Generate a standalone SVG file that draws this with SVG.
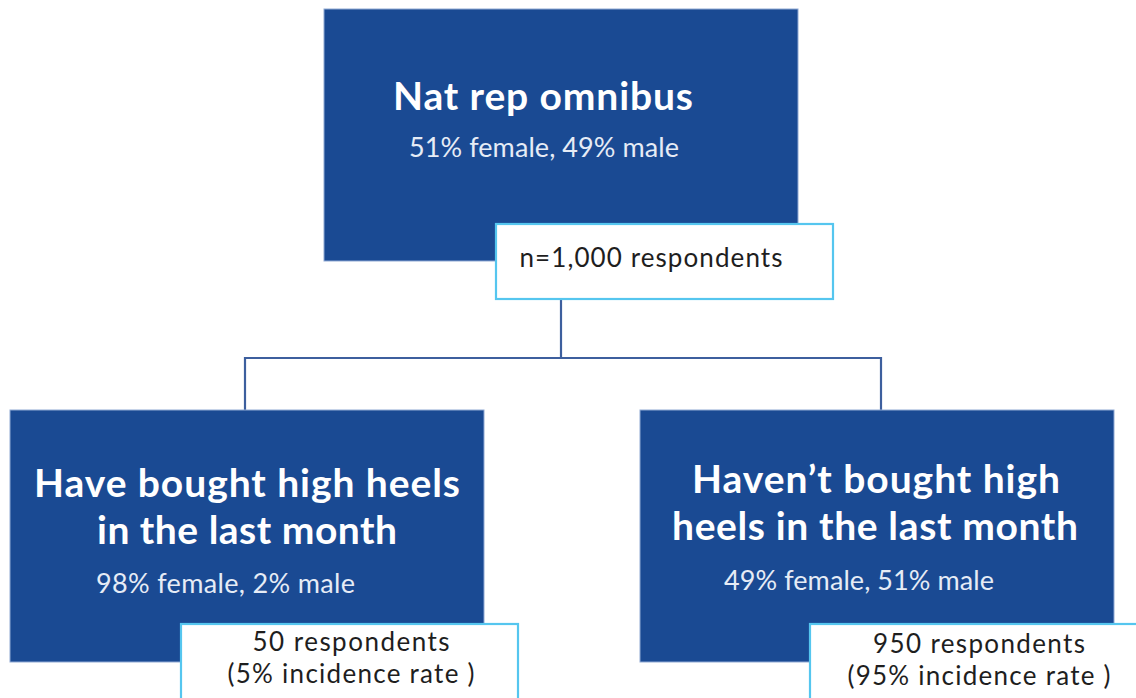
<svg xmlns="http://www.w3.org/2000/svg" width="1136" height="698" viewBox="0 0 1136 698">
<style>
.box{fill:#1a4a93;stroke:#8fa9d4;stroke-width:1}
.lbl{fill:#ffffff;stroke:#55c6ef;stroke-width:2.2}
.title{font-family:Lato,"Liberation Sans",sans-serif;font-weight:bold;font-size:39px;fill:#ffffff}
.sub{font-family:Lato,"Liberation Sans",sans-serif;font-size:27px;fill:#e6ecf6}
.ltxt{font-family:Lato,"Liberation Sans",sans-serif;font-size:26px;fill:#1e1e1e}
.conn{fill:none;stroke:#3d5f9e;stroke-width:2.2}
</style>
<rect width="1136" height="698" fill="#ffffff"/>
<g id="connectors">
<path class="conn" d="M561 299 V358 M245 410 V358 H881 V410"/>
</g>
<g id="node-omnibus">
<rect class="box" x="324" y="9" width="474" height="252"/>
<text class="title" x="543" y="110" text-anchor="middle" textLength="300">Nat rep omnibus</text>
<text class="sub" x="544" y="157" text-anchor="middle" textLength="270">51% female, 49% male</text>
</g>
<g id="label-total">
<rect class="lbl" x="496" y="224" width="337" height="75"/>
<text class="ltxt" x="651" y="267" text-anchor="middle" textLength="263">n=1,000 respondents</text>
</g>
<g id="node-bought">
<rect class="box" x="10" y="410" width="474" height="252"/>
<text class="title" x="247" y="497" text-anchor="middle" textLength="426">Have bought high heels</text>
<text class="title" x="247" y="544" text-anchor="middle" textLength="300">in the last month</text>
<text class="sub" x="96" y="593" textLength="259">98% female, 2% male</text>
</g>
<g id="label-bought">
<rect class="lbl" x="181" y="624" width="337" height="80"/>
<text class="ltxt" x="351" y="651" text-anchor="middle" textLength="197">50 respondents</text>
<text class="ltxt" x="351" y="683" text-anchor="middle" textLength="247">(5% incidence rate )</text>
</g>
<g id="node-not-bought">
<rect class="box" x="640" y="410" width="474" height="252"/>
<text class="title" x="876" y="493" text-anchor="middle" textLength="368">Haven’t bought high</text>
<text class="title" x="875" y="540" text-anchor="middle" textLength="406">heels in the last month</text>
<text class="sub" x="724" y="590" textLength="270">49% female, 51% male</text>
</g>
<g id="label-not-bought">
<rect class="lbl" x="810" y="624" width="340" height="80"/>
<text class="ltxt" x="979" y="653" text-anchor="middle" textLength="212">950 respondents</text>
<text class="ltxt" x="979" y="685" text-anchor="middle" textLength="263">(95% incidence rate )</text>
</g>
</svg>
